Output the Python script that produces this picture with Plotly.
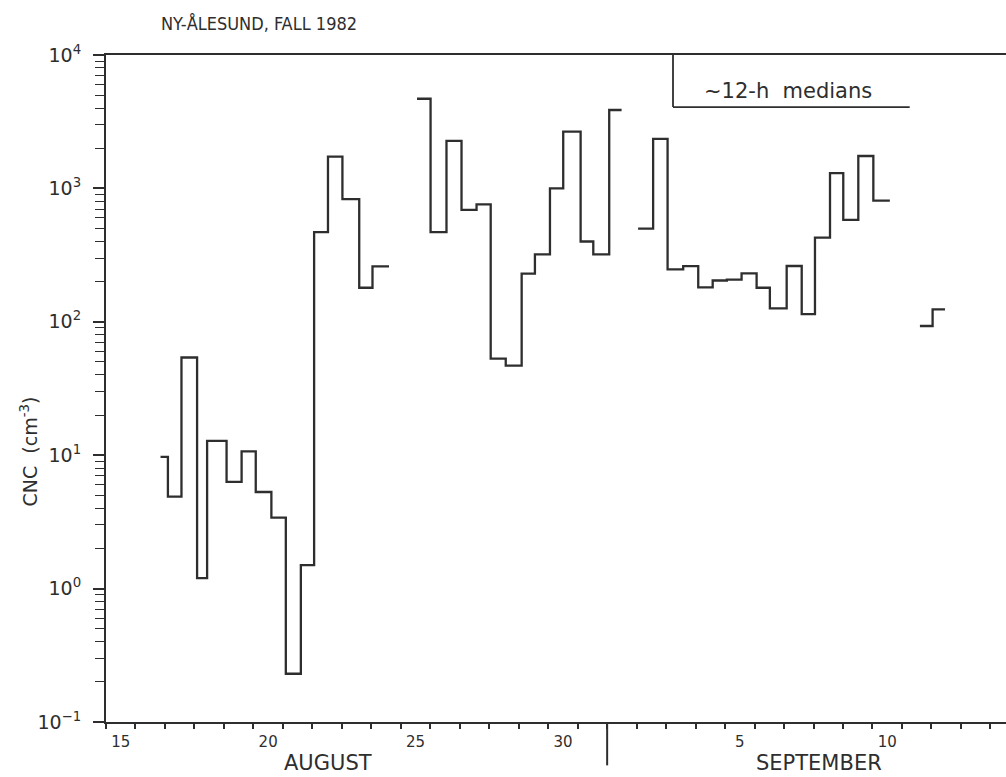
import plotly.graph_objects as go

# Time is counted in days of August (32 = 1 September); each step is a ~12-h median.
seg1_edges = [16.85, 17.10, 17.56, 18.09, 18.43, 19.09, 19.60, 20.08, 20.61,
              21.10, 21.61, 22.06, 22.53, 23.02, 23.59, 24.04, 24.60]
seg1_cnc = [9.7, 4.9, 54, 1.2, 12.8, 6.3, 10.7, 5.3, 3.4, 0.23, 1.5,
            470, 1730, 830, 180, 260]

seg2_edges = [25.55, 26.01, 26.55, 27.06, 27.57, 28.05, 28.56, 29.10, 29.55,
              30.06, 30.51, 31.10, 31.53, 32.07, 32.49]
seg2_cnc = [4700, 470, 2270, 690, 760, 53, 47, 230, 320, 1000, 2660, 400,
            320, 3870]

seg3_edges = [33.05, 33.56, 34.05, 34.58, 35.09, 35.58, 36.06, 36.56, 37.07,
              37.52, 38.09, 38.60, 39.05, 39.56, 40.01, 40.52, 41.03, 41.59]
seg3_cnc = [500, 2350, 247, 261, 181, 204, 207, 231, 180, 126, 262, 114,
            427, 1300, 580, 1750, 810]

seg4_edges = [42.61, 43.04, 43.46]
seg4_cnc = [93, 124]

segments = [(seg1_edges, seg1_cnc), (seg2_edges, seg2_cnc),
            (seg3_edges, seg3_cnc), (seg4_edges, seg4_cnc)]

# Axis labelling
x_label_days = [15.5, 20.5, 25.5, 30.5, 36.5, 41.5]
x_label_text = ["15", "20", "25", "30", "5", "10"]
day_ticks = list(range(15, 46))
month_break = 32  # 1 September
y_decades = [0.1, 1, 10, 100, 1000, 10000]
y_decade_text = ["10<sup>−1</sup>", "10<sup>0</sup>", "10<sup>1</sup>",
                 "10<sup>2</sup>", "10<sup>3</sup>", "10<sup>4</sup>"]
y_minor = [m * 10 ** e for e in range(-1, 4) for m in range(2, 10)]

INK = "#2e2e2e"
FONT = "DejaVu Sans"

xs, ys = [], []
for edges, vals in segments:
    xs.extend(edges)
    ys.extend(list(vals) + [vals[-1]])
    xs.append(None)
    ys.append(None)

fig = go.Figure()
fig.add_trace(go.Scatter(
    x=xs, y=ys, mode="lines",
    line=dict(shape="hv", color=INK, width=2.3),
    connectgaps=False, showlegend=False, hoverinfo="skip",
))

fig.update_layout(
    width=1006, height=777,
    margin=dict(l=106, r=0, t=55, b=55),
    paper_bgcolor="white", plot_bgcolor="white",
    font=dict(family=FONT, size=16, color=INK),
    title=dict(
        text="NY-ÅLESUND, FALL 1982",
        x=259 / 1006, xref="container", xanchor="center",
        y=1 - 24 / 777, yref="container", yanchor="middle",
        font=dict(family="DejaVu Sans Condensed, DejaVu Sans", size=18, color=INK),
    ),
    xaxis=dict(
        range=[15, 45.53], showgrid=False, zeroline=False,
        showline=True, linecolor=INK, linewidth=2, mirror=True,
        tickmode="array", tickvals=x_label_days, ticktext=x_label_text,
        ticks="", ticklabelstandoff=5,
        tickfont=dict(size=15, family=FONT, color=INK),
        minor=dict(tickmode="array", tickvals=day_ticks, ticks="outside",
                   ticklen=5, tickwidth=1.6, tickcolor=INK, showgrid=False),
    ),
    yaxis=dict(
        type="log", range=[-1, 4], showgrid=False, zeroline=False,
        showline=True, linecolor=INK, linewidth=2, mirror=False,
        tickmode="array", tickvals=y_decades, ticktext=y_decade_text,
        ticks="outside", ticklen=11, tickwidth=1.6, tickcolor=INK,
        ticklabelstandoff=8,
        tickfont=dict(size=19, family=FONT, color=INK),
        minor=dict(tickmode="array", tickvals=y_minor, ticks="outside",
                   ticklen=9, tickwidth=1.4, tickcolor=INK, showgrid=False),
    ),
)

# Long tick separating August from September
fig.add_shape(type="line", xref="x", yref="paper",
              x0=month_break, x1=month_break, y0=0, y1=-0.065,
              line=dict(color=INK, width=2))

# Month names
fig.add_annotation(text="AUGUST", x=22.52, xref="x", y=-0.061, yref="paper",
                   showarrow=False, xanchor="center", yanchor="middle",
                   borderpad=0, font=dict(size=21, family=FONT, color=INK))
fig.add_annotation(text="SEPTEMBER", x=39.2, xref="x", y=-0.061, yref="paper",
                   showarrow=False, xanchor="center", yanchor="middle",
                   borderpad=0, font=dict(size=21, family=FONT, color=INK))

# Y-axis title
fig.add_annotation(text="CNC  (cm<sup>-3</sup>)", x=-0.086, xref="paper",
                   y=0.405, yref="paper", textangle=-90, showarrow=False,
                   xanchor="center", yanchor="middle",
                   font=dict(size=19, family=FONT, color=INK))

# Key for the step curve
fig.add_shape(type="line", xref="paper", yref="paper",
              x0=0.63, x1=0.63, y0=1.0, y1=0.922,
              line=dict(color=INK, width=1.8))
fig.add_shape(type="line", xref="paper", yref="paper",
              x0=0.63, x1=0.893, y0=0.922, y1=0.922,
              line=dict(color=INK, width=1.8))
fig.add_annotation(text="~12-h  medians", x=0.758, xref="paper",
                   y=0.946, yref="paper", showarrow=False,
                   xanchor="center", yanchor="middle",
                   font=dict(size=21, family=FONT, color=INK))

fig.write_html("out.html")
